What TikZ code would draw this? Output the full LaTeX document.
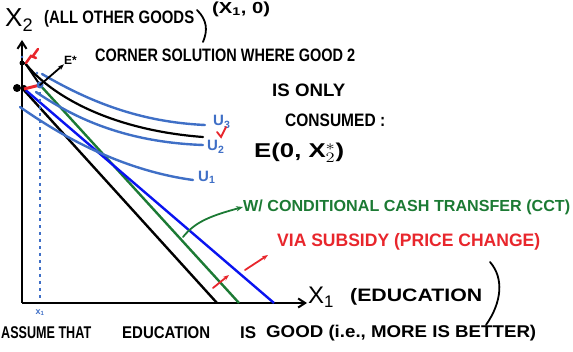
\documentclass[tikz,border=0pt]{standalone}
\usepackage{fontspec}
\usepackage{graphicx}
\setmainfont{Liberation Sans}
\usetikzlibrary{arrows.meta}
\definecolor{icblue}{HTML}{3F6FC6}
\definecolor{bblue}{HTML}{0A14F0}
\definecolor{dgreen}{HTML}{1C7A34}
\definecolor{pred}{HTML}{E8262C}
\newcommand{\wbox}[2]{\resizebox{#1}{\height}{#2}}
\begin{document}
\begin{tikzpicture}[x=1pt,y=-1pt,
  lbl/.style={inner sep=0pt, anchor=west, font=\fontsize{18}{18}\selectfont\bfseries},
  axisline/.style={line width=2pt, black, -{Straight Barb[length=7pt,width=9pt]}},
  budget/.style={line width=2.4pt},
  ic/.style={line width=2.4pt, icblue, line cap=round},
  pen/.style={line width=1.8pt, line cap=round}]
\useasboundingbox (0,0) rectangle (573,352);
% axes
\coordinate (O) at (22,303);
\coordinate (ytop) at (22,40);
\coordinate (xend) at (307,303);
\draw[axisline] (O) -- (ytop);
\draw[axisline] (O) -- (xend);
% budget lines
\coordinate (b0) at (22,88);
\coordinate (b0e) at (217,303);
\coordinate (E) at (40,85);
\coordinate (g0e) at (239,303);
\coordinate (u0) at (22,87);
\coordinate (u0e) at (274,303);
\draw[budget, black] (b0) -- (b0e);
\draw[budget, dgreen] (E) -- (g0e);
\draw[budget, bblue] (u0) -- (u0e);
% indifference curves
\draw[ic] (42,74) .. controls (90,102) and (140,122) .. (205,125);
\draw[line width=2.2pt, black, line cap=round] (25,63) .. controls (50,95) and (110,130) .. (203,137);
\draw[ic] (36,92) .. controls (70,115) and (120,142) .. (203,145);
\draw[ic] (20,107) .. controls (60,135) and (120,170) .. (193,180);
\draw[line width=2pt, black] (25,63) -- (E);
% corner details
\coordinate (Ast) at (22,63);
\fill[black] (Ast) circle (2.5pt);
\fill[black] (17,88) circle (4pt);
\fill[black] (24,88) circle (3pt);
\draw[line width=3pt, pred] (24,89) -- (E);
\draw[pred, line width=2.5pt, line cap=round] (26,63) -- (31,56) -- (36,58) (33,56) -- (38,49);
\fill[icblue] (E) circle (3.5pt);
\fill[icblue] (37,73) circle (1.3pt);
\fill[icblue] (22,57) circle (1.3pt);
% dotted vertical at x1
\coordinate (dtop) at (40,92);
\coordinate (dbot) at (40,298);
\draw[icblue, line width=2pt, dash pattern=on 3pt off 4pt] (dtop) -- (dbot);
\node[inner sep=0pt, icblue, font=\fontsize{9}{9}\selectfont\bfseries] (x1small) at (40,313) {x\textsubscript{1}};
% E* arrow
\node[lbl, font=\fontsize{12}{12}\selectfont\bfseries] (estar) at (64,60) {E*};
\draw[pen, -{Stealth[length=6pt]}] (E) -- (estar.south west);
% axis labels
\node[lbl, font=\fontsize{26}{26}\selectfont] (x2lab) at (5,20) {X\textsubscript{2}};
\node[lbl] (goods) at (44,19) {\wbox{150pt}{(ALL OTHER GOODS}};
\draw[pen] (197,10) .. controls (207,20) and (208,30) .. (203,42);
\node[lbl, font=\fontsize{16}{16}\selectfont\bfseries] (x1zero) at (212,9) {\wbox{58pt}{(X\textsubscript{1}, 0)}};
\node[lbl, font=\fontsize{24}{24}\selectfont] (x1lab) at (308,297) {X\textsubscript{1}};
\node[lbl] (edu) at (350,297) {\wbox{132pt}{(EDUCATION}};
\draw[pen] (490,262) .. controls (504,278) and (502,302) .. (486,325);
% explanation
\node[lbl] (corner) at (95,55) {\wbox{260pt}{CORNER SOLUTION WHERE GOOD 2}};
\node[lbl] (isonly) at (272,90) {\wbox{73pt}{IS ONLY}};
\node[lbl] (consumed) at (285,120) {\wbox{100pt}{CONSUMED :}};
\node[lbl, font=\fontsize{20}{20}\selectfont\bfseries] (epoint) at (254,153) {\wbox{90pt}{E(0, X$^{*}_{2}$)}};
% U labels
\node[lbl, icblue, font=\fontsize{15}{15}\selectfont\bfseries] (u3) at (213,122) {U\textsubscript{3}};
\node[lbl, icblue, font=\fontsize{15}{15}\selectfont\bfseries] (u2) at (207,147) {U\textsubscript{2}};
\draw[pred, line width=1.8pt, line cap=round] (217,132) -- (221,137) -- (226,127);
\node[lbl, icblue, font=\fontsize{15}{15}\selectfont\bfseries] (u1) at (198,177) {U\textsubscript{1}};
% CCT
\node[lbl, dgreen, font=\fontsize{16}{16}\selectfont\bfseries] (cct) at (243,207) {\wbox{327pt}{W/ CONDITIONAL CASH TRANSFER (CCT)}};
\draw[pen, dgreen, -{Stealth[length=7pt, open]}] (183,237) .. controls (195,222) and (210,216) .. (cct.west);
% subsidy
\node[lbl, pred] (sub) at (277,242) {\wbox{263pt}{VIA SUBSIDY (PRICE CHANGE)}};
\coordinate (r1s) at (245,270);
\coordinate (r1e) at (268,255);
\coordinate (r2s) at (213,288);
\coordinate (r2e) at (229,275);
\draw[pen, pred, -{Stealth[length=6pt]}] (r1s) -- (r1e);
\draw[pen, pred, -{Stealth[length=6pt]}] (r2s) -- (r2e);
% bottom note
\node[lbl, font=\fontsize{17}{17}\selectfont\bfseries] (assume) at (1,333) {\wbox{90pt}{ASSUME THAT}};
\node[lbl, font=\fontsize{17}{17}\selectfont\bfseries] (edu2) at (122,333) {\wbox{88pt}{EDUCATION}};
\node[lbl, font=\fontsize{17}{17}\selectfont\bfseries] (is2) at (240,333) {IS};
\node[lbl, font=\fontsize{17}{17}\selectfont\bfseries] (good) at (266,333) {\wbox{270pt}{GOOD (i.e., MORE IS BETTER)}};
\end{tikzpicture}
\end{document}
